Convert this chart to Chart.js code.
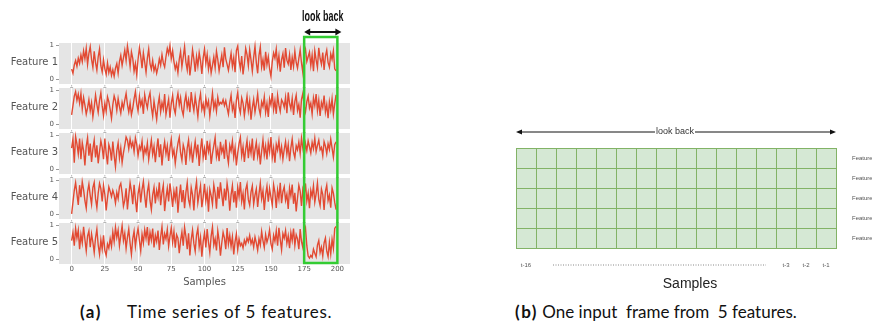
<!DOCTYPE html>
<html>
<head>
<meta charset="utf-8">
<script src="https://cdn.jsdelivr.net/npm/chart.js@4.4.1/dist/chart.umd.min.js"></script>
<style>
  html, body { margin: 0; padding: 0; background: #fff; width: 872px; height: 329px; overflow: hidden; }
  .box { position: absolute; }
  .cap { position: absolute; top: 301px; font-family: Lato, "Open Sans", sans-serif; font-size: 17px; color: #111; white-space: pre; }
  .cap b { letter-spacing: 1.5px; }
</style>
</head>
<body>
<div class="box" style="left:0;top:0;width:360px;height:295px"><canvas id="ts" width="360" height="295"></canvas></div>
<div class="box" style="left:490px;top:110px;width:382px;height:190px"><canvas id="frame" width="382" height="190"></canvas></div>
<div class="cap" style="left:80px"><b>(a)</b></div>
<div class="cap" style="left:127px;letter-spacing:0.7px">Time series of 5 features.</div>
<div class="cap" style="left:515px"><b>(b)</b> One input  frame from  5 features.</div>

<script>
// ---- data ----------------------------------------------------------------
const featureNames = ['Feature 1', 'Feature 2', 'Feature 3', 'Feature 4', 'Feature 5'];
const sampleTicks = [0, 25, 50, 75, 100, 125, 150, 175, 200];
const lookBackStart = 175;
const lookBackEnd = 200;
const lagLabels = ['t-16', '', '', '', '', '', '', '', '', '', '', '', '', 't-3', 't-2', 't-1'];

const feature1 = [
  .30,.18,.42,.55,.38,.62,.47,.71,.52,.83,.60,.90,.44,.76,.95,.58,.35,.82,.49,.27,
  .66,.88,.40,.22,.57,.31,.15,.48,.20,.36,.12,.28,.09,.33,.46,.18,.52,.70,.41,.63,
  .85,.55,.97,.72,.38,.80,.61,.24,.46,.14,.58,.92,.68,.33,.77,.50,.21,.62,.88,.45,
  .30,.55,.25,.40,.18,.35,.60,.42,.72,.48,.36,.66,.90,.74,.98,.60,.83,.52,.30,.46,
  .20,.58,.81,.37,.65,.95,.50,.28,.70,.12,.44,.86,.59,.23,.67,.39,.78,.54,.16,.62,
  .88,.47,.73,.30,.56,.19,.41,.65,.34,.82,.58,.25,.49,.71,.36,.93,.60,.44,.27,.52,
  .76,.38,.63,.21,.84,.97,.55,.32,.68,.15,.46,.90,.72,.40,.86,.57,.24,.64,.96,.49,
  .18,.70,.94,.36,.58,.26,.80,.43,.66,.31,.09,.52,.77,.62,.88,.41,.69,.23,.58,.75,
  .34,.91,.56,.45,.72,.28,.64,.38,.82,.50,.33,.61,.86,.48,.20,.74,.88,.52,.66,.79,
  .40,.71,.24,.83,.57,.35,.92,.61,.44,.78,.28,.68,.85,.49,.36,.74,.58,.83,.31,.25
];
const feature2 = [
  .28,.55,.82,.95,.70,.88,.62,.90,.45,.78,.56,.30,.48,.72,.40,.63,.22,.50,.85,.58,
  .35,.70,.92,.54,.26,.61,.38,.80,.66,.44,.18,.57,.83,.69,.41,.75,.52,.33,.64,.47,
  .71,.90,.58,.36,.62,.28,.47,.74,.95,.60,.39,.82,.55,.70,.31,.86,.64,.48,.77,.92,
  .50,.24,.68,.41,.15,.56,.80,.37,.63,.45,.88,.29,.52,.73,.20,.61,.84,.47,.32,.69,
  .90,.56,.78,.43,.27,.65,.86,.50,.71,.36,.94,.62,.40,.81,.54,.23,.67,.89,.44,.60,
  .33,.76,.52,.68,.25,.58,.91,.47,.66,.38,.79,.57,.64,.60,.72,.55,.69,.48,.30,.63,
  .85,.42,.58,.19,.70,.93,.51,.34,.77,.62,.26,.55,.82,.40,.68,.14,.49,.73,.36,.60,
  .88,.47,.29,.66,.52,.80,.35,.61,.22,.74,.57,.91,.43,.69,.31,.84,.56,.38,.72,.64,
  .50,.79,.33,.93,.61,.45,.76,.28,.67,.85,.41,.58,.20,.73,.90,.54,.37,.66,.82,.48,
  .62,.30,.77,.55,.88,.40,.70,.25,.64,.49,.84,.36,.58,.18,.66,.42,.75,.30,.60,.86
];
const feature3 = [
  .62,.88,.20,.95,.74,.45,.90,.30,.78,.55,.12,.68,.92,.40,.75,.22,.60,.85,.35,.70,
  .18,.52,.83,.64,.30,.90,.47,.15,.72,.58,.26,.81,.40,.08,.55,.77,.33,.62,.20,.48,
  .70,.94,.85,.60,.88,.66,.79,.52,.91,.73,.40,.68,.57,.82,.35,.63,.48,.76,.29,.58,
  .85,.44,.67,.21,.59,.90,.36,.73,.12,.55,.80,.46,.69,.25,.62,.88,.41,.57,.18,.50,
  .76,.93,.48,.27,.71,.56,.13,.62,.85,.39,.66,.20,.54,.81,.44,.72,.10,.58,.90,.35,
  .61,.28,.83,.52,.74,.16,.46,.69,.92,.37,.58,.24,.80,.50,.65,.31,.87,.43,.19,.70,
  .54,.82,.36,.63,.12,.48,.75,.93,.40,.66,.22,.59,.84,.33,.71,.47,.90,.26,.57,.79,
  .38,.64,.15,.53,.86,.42,.68,.29,.77,.51,.94,.35,.62,.20,.73,.56,.84,.41,.66,.30,
  .58,.81,.45,.72,.24,.63,.88,.50,.34,.69,.57,.80,.47,.91,.62,.38,.75,.55,.83,.66,
  .48,.79,.60,.90,.52,.70,.85,.57,.64,.40,.81,.68,.46,.75,.58,.88,.62,.36,.72,.80
];
const feature4 = [
  .02,.35,.70,.92,.60,.28,.85,.50,.95,.72,.40,.18,.66,.88,.55,.30,.78,.93,.46,.20,
  .62,.90,.75,.38,.84,.58,.12,.48,.80,.67,.52,.70,.57,.33,.64,.46,.81,.90,.62,.24,
  .41,.76,.15,.55,.92,.68,.30,.86,.44,.07,.60,.83,.35,.72,.95,.54,.20,.66,.88,.40,
  .14,.57,.79,.32,.70,.50,.93,.27,.63,.85,.10,.48,.76,.38,.90,.59,.22,.68,.44,.81,
  .05,.53,.87,.36,.71,.18,.64,.92,.43,.26,.78,.57,.12,.69,.95,.34,.60,.83,.21,.50,
  .89,.40,.66,.08,.73,.55,.30,.86,.62,.17,.80,.46,.93,.58,.24,.75,.41,.90,.63,.11,
  .57,.84,.35,.68,.20,.79,.52,.94,.38,.61,.15,.72,.88,.43,.27,.65,.83,.30,.56,.74,
  .22,.60,.91,.46,.69,.13,.58,.82,.37,.75,.50,.28,.86,.64,.19,.71,.45,.92,.33,.66,
  .80,.41,.59,.16,.77,.54,.87,.31,.63,.09,.48,.85,.68,.25,.73,.57,.90,.39,.62,.18,
  .70,.52,.83,.36,.60,.91,.44,.26,.74,.58,.13,.67,.85,.40,.56,.20,.77,.62,.35,.14
];
const feature5 = [
  .55,.78,.40,.90,.62,.85,.30,.72,.48,.95,.58,.25,.68,.83,.36,.74,.50,.20,.63,.88,
  .42,.15,.57,.30,.70,.26,.12,.45,.33,.60,.38,.80,.52,.93,.64,.85,.40,.70,.98,.55,
  .76,.32,.64,.88,.47,.15,.60,.82,.38,.69,.90,.55,.25,.73,.48,.86,.62,.94,.41,.78,
  .56,.90,.35,.70,.52,.84,.28,.66,.95,.44,.75,.60,.87,.39,.68,.92,.50,.81,.34,.72,
  .62,.18,.55,.80,.40,.93,.67,.30,.76,.12,.58,.85,.46,.24,.71,.90,.37,.64,.08,.52,
  .77,.35,.88,.50,.20,.68,.94,.42,.60,.26,.83,.55,.11,.48,.79,.62,.30,.91,.45,.70,
  .38,.66,.15,.52,.74,.28,.59,.40,.47,.33,.56,.44,.62,.51,.70,.46,.58,.36,.65,.48,
  .27,.60,.42,.81,.55,.35,.72,.50,.64,.86,.45,.30,.70,.53,.83,.40,.92,.58,.28,.75,
  .62,.84,.47,.69,.33,.78,.55,.90,.41,.72,.60,.30,.88,.52,.35,.79,.92,.40,.10,.04,
  .12,.06,.30,.18,.08,.42,.55,.20,.36,.10,.48,.62,.24,.08,.50,.16,.58,.32,.90,.96
];
const series = [feature1, feature2, feature3, feature4, feature5];

// ---- styling constants ---------------------------------------------------
const Y_MIN = -0.13, Y_MAX = 1.174, BAND_TOP = 1.058;
const LINE_RED = '#e24a33';
const PANEL_GRAY = '#e5e5e5';
const BOX_GREEN = '#33cc33';
const CELL_FILL = '#d5e8d4', CELL_LINE = '#82b366';
const MPL_FONT = 'DejaVu Sans';
const DIAG_FONT = '"Liberation Sans", Arial, sans-serif';

// ---- (a) five stacked time series ----------------------------------------
// stacked left axes are laid out from the last declared one downwards,
// so the rows are declared bottom-up to keep Feature 1 on top
const yScales = {};
for (let k = featureNames.length - 1; k >= 0; k--) {
  yScales['f' + (k + 1)] = {
    type: 'linear', position: 'left', stack: 'features', stackWeight: 1,
    min: Y_MIN, max: Y_MAX,
    afterBuildTicks: a => { a.ticks = [{ value: 0 }, { value: 1 }]; },
    ticks: { color: '#555', font: { family: MPL_FONT, size: 7 }, padding: 2 },
    grid: { drawOnChartArea: false, drawTicks: true, tickLength: 3, color: '#999' },
    border: { display: false },
    afterFit: s => { s.width = 59; }
  };
}

const panelPlugin = {
  id: 'panels',
  beforeDraw(chart) {
    const { ctx, chartArea: { left, right } } = chart;
    ctx.save();
    ctx.fillStyle = PANEL_GRAY;
    featureNames.forEach((n, k) => {
      const s = chart.scales['f' + (k + 1)];
      const top = s.getPixelForValue(BAND_TOP), bot = s.getPixelForValue(Y_MIN);
      ctx.fillRect(left, top, right - left, bot - top);
    });
    ctx.restore();
  },
  afterDraw(chart) {
    const { ctx, chartArea: area } = chart;
    const xs = chart.scales.x;
    ctx.save();
    // per-row feature names
    ctx.fillStyle = '#555';
    ctx.font = '10px ' + MPL_FONT;
    ctx.textAlign = 'right';
    ctx.textBaseline = 'middle';
    featureNames.forEach((n, k) => {
      const s = chart.scales['f' + (k + 1)];
      ctx.fillText(n, 58, s.getPixelForValue(0.5));
    });
    // small tick marks in the gaps between rows
    ctx.fillStyle = '#b5b5b5';
    featureNames.forEach((n, k) => {
      const s = chart.scales['f' + (k + 1)];
      if (s.bottom >= area.bottom - 1) return;
      const y = s.getPixelForValue(Y_MIN);
      sampleTicks.forEach(t => {
        const x = xs.getPixelForValue(t);
        ctx.fillRect(x - 0.5, y + 1, 1, 1.5);
        ctx.fillRect(x - 1.5, y + 3, 3, 1);
      });
    });
    // look-back window
    const x0 = xs.getPixelForValue(lookBackStart);
    const x1 = xs.getPixelForValue(lookBackEnd);
    const top = area.top - 2, bot = area.bottom - 1;
    ctx.strokeStyle = BOX_GREEN;
    ctx.lineWidth = 2.5;
    ctx.strokeRect(x0, top, x1 - x0, bot - top);
    // double arrow above it
    const ay = top - 5, ax0 = x0, ax1 = x1 + 4;
    ctx.strokeStyle = '#111';
    ctx.fillStyle = '#111';
    ctx.lineWidth = 2;
    ctx.beginPath(); ctx.moveTo(ax0 + 4, ay); ctx.lineTo(ax1 - 4, ay); ctx.stroke();
    ctx.beginPath(); ctx.moveTo(ax0, ay); ctx.lineTo(ax0 + 6, ay - 3.5); ctx.lineTo(ax0 + 6, ay + 3.5); ctx.closePath(); ctx.fill();
    ctx.beginPath(); ctx.moveTo(ax1, ay); ctx.lineTo(ax1 - 6, ay - 3.5); ctx.lineTo(ax1 - 6, ay + 3.5); ctx.closePath(); ctx.fill();
    // narrow bold caption for the window
    ctx.font = 'bold 14px "Liberation Sans", Arial, sans-serif';
    ctx.textAlign = 'center';
    ctx.textBaseline = 'middle';
    ctx.translate((ax0 + ax1) / 2, 17);
    ctx.scale(0.64, 1);
    ctx.fillText('look back', 0, 0);
    ctx.restore();
  }
};

new Chart(document.getElementById('ts'), {
  type: 'line',
  data: {
    datasets: series.map((vals, k) => ({
      label: featureNames[k],
      data: vals.map((v, i) => ({ x: i, y: v })),
      yAxisID: 'f' + (k + 1),
      borderColor: LINE_RED,
      borderWidth: 1.4,
      pointRadius: 0,
      tension: 0,
      fill: false
    }))
  },
  options: {
    responsive: false,
    animation: false,
    layout: { padding: { left: 0, top: 39, right: 10, bottom: 0 } },
    plugins: { legend: { display: false }, tooltip: { enabled: false } },
    scales: Object.assign({
      x: {
        type: 'linear', min: -9.5, max: 209.5,
        afterBuildTicks: a => { a.ticks = sampleTicks.map(v => ({ value: v })); },
        grid: { color: '#ffffff', lineWidth: 1, drawTicks: false },
        border: { display: false },
        ticks: { color: '#555', font: { family: MPL_FONT, size: 7 }, padding: 1, maxRotation: 0, autoSkip: false },
        title: { display: true, text: 'Samples', color: '#555', font: { family: MPL_FONT, size: 10 }, padding: { top: 0, bottom: 7 } },
        afterFit: s => { s.height = 31; }
      }
    }, yScales)
  },
  plugins: [panelPlugin]
});

// ---- (b) one input frame: 16 look-back steps x 5 features ----------------
const framePlugin = {
  id: 'frameDecor',
  beforeDraw(chart) {
    const { ctx, chartArea: a } = chart;
    ctx.save();
    ctx.fillStyle = CELL_FILL;
    ctx.fillRect(a.left, a.top, a.right - a.left, a.bottom - a.top);
    ctx.restore();
  },
  afterDraw(chart) {
    const { ctx, chartArea: a } = chart;
    const xs = chart.scales.x;
    ctx.save();
    // "look back" arrow spanning the frame
    const ay = a.top - 16;
    const label = 'look back';
    ctx.font = '9px ' + DIAG_FONT;
    const tw = ctx.measureText(label).width;
    const cx = (a.left + a.right) / 2 - 1;
    ctx.strokeStyle = '#111';
    ctx.fillStyle = '#111';
    ctx.lineWidth = 1;
    ctx.beginPath();
    ctx.moveTo(a.left + 4, ay); ctx.lineTo(cx - tw / 2 - 1, ay);
    ctx.moveTo(cx + tw / 2 + 1, ay); ctx.lineTo(a.right - 4, ay);
    ctx.stroke();
    ctx.beginPath(); ctx.moveTo(a.left, ay); ctx.lineTo(a.left + 6, ay - 2.5); ctx.lineTo(a.left + 6, ay + 2.5); ctx.closePath(); ctx.fill();
    ctx.beginPath(); ctx.moveTo(a.right, ay); ctx.lineTo(a.right - 6, ay - 2.5); ctx.lineTo(a.right - 6, ay + 2.5); ctx.closePath(); ctx.fill();
    ctx.fillStyle = '#333';
    ctx.textAlign = 'center';
    ctx.textBaseline = 'middle';
    ctx.fillText(label, cx, ay);
    // dotted run between the first and the last time steps
    const ly = a.bottom + 17;
    ctx.strokeStyle = '#888';
    ctx.setLineDash([1, 1.5]);
    ctx.beginPath();
    ctx.moveTo(xs.getPixelForValue(1) + 7, ly);
    ctx.lineTo(xs.getPixelForValue(12), ly);
    ctx.stroke();
    ctx.setLineDash([]);
    // axis name
    ctx.fillStyle = '#222';
    ctx.font = '14px ' + DIAG_FONT;
    ctx.fillText('Samples', (a.left + a.right) / 2 + 14, a.bottom + 36);
    ctx.restore();
  }
};

new Chart(document.getElementById('frame'), {
  type: 'line',
  data: { labels: lagLabels, datasets: [] },
  options: {
    responsive: false,
    animation: false,
    layout: { padding: { left: 26, top: 38, right: 0, bottom: 0 } },
    plugins: { legend: { display: false }, tooltip: { enabled: false } },
    scales: {
      x: {
        type: 'category', offset: true,
        grid: { offset: true, color: CELL_LINE, lineWidth: 1, drawTicks: false },
        border: { color: CELL_LINE },
        ticks: { color: '#555', font: { family: DIAG_FONT, size: 6 }, padding: 14, autoSkip: false, maxRotation: 0 },
        afterFit: s => { s.height = 52; }
      },
      y: {
        type: 'category', labels: featureNames, position: 'right', offset: true,
        grid: { offset: true, color: CELL_LINE, lineWidth: 1, drawTicks: false },
        border: { color: CELL_LINE },
        ticks: { color: '#555', font: { family: DIAG_FONT, size: 6 }, padding: 16 },
        afterFit: s => { s.width = 36; }
      }
    }
  },
  plugins: [framePlugin]
});
</script>
</body>
</html>
